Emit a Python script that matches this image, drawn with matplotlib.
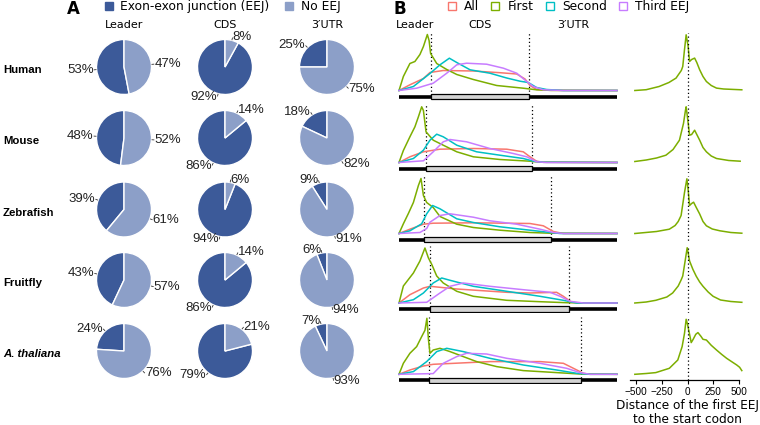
import matplotlib.pyplot as plt
from matplotlib.lines import Line2D
from matplotlib.patches import Rectangle
import numpy as np

W, H = 760, 425

# ---- panel A data: share of genes with an exon-exon junction (%)
species = ["Human", "Mouse", "Zebrafish", "Fruitfly", "A. thaliana"]
regions = ["Leader", "CDS", "3\u2032UTR"]
eej_pct = [[53, 92, 25],
           [48, 86, 18],
           [39, 94, 9],
           [43, 86, 6],
           [24, 79, 7]]

# ---- panel B data: metagene position (0..1) of CDS start / stop
cds_start = [0.147, 0.124, 0.116, 0.142, 0.139]
cds_stop = [0.598, 0.612, 0.696, 0.780, 0.835]

# density of EEJ along the metagene: (x, y) per species
all_x = [[0, .05, .112, .142, .203, .341, .463, .540, .578, .601, .631, .69, 1],
         [0, .05, .112, .188, .341, .494, .570, .601, .631, .662, 1],
         [0, .05, .112, .157, .341, .601, .662, .708, .754, 1],
         [0, .05, .112, .142, .265, .494, .601, .723, .754, .792, .830, 1],
         [0, .05, .112, .157, .417, .647, .754, .800, .846, .876, 1]]
all_y = [[0, 5.7, 12, 18, 20, 19.5, 17.8, 16.5, 11.5, 5, 1, 0.2, 0],
         [0, 5.7, 10.7, 13.3, 14, 13.3, 10.7, 5.7, 1.3, 0.2, 0],
         [0, 4.3, 9.3, 10.3, 10.7, 10, 7.7, 2, 0, 0],
         [0, 8.3, 15, 16.7, 14, 10.7, 10, 10.7, 6.7, 0.7, 0, 0],
         [0, 4.3, 8.3, 10, 12.7, 12.7, 11, 6, 1, 0, 0]]

first_x = [[0, .02, .05, .073, .096, .112, .130, .138, .145, .173, .219, .265, .341, .448, .570, .631, .70, 1],
           [0, .02, .05, .073, .089, .104, .112, .124, .157, .203, .265, .341, .463, .601, .647, 1],
           [0, .02, .043, .066, .089, .101, .112, .127, .157, .188, .265, .341, .463, .601, .693, 1],
           [0, .02, .066, .096, .119, .135, .150, .173, .203, .265, .341, .494, .647, .769, 1],
           [0, .02, .05, .081, .104, .119, .128, .135, .142, .157, .188, .234, .295, .356, .448, .570, .723, .830, 1]]
first_y = [[0, 14, 27, 29, 36, 44, 56, 50, 37, 27, 21, 16, 11, 5, 2.3, 0.7, 0.1, 0],
           [0, 12, 25.7, 35.7, 45.7, 55.7, 52, 30.7, 22.3, 17.3, 10.7, 5.7, 3, 1.3, 0.3, 0],
           [0, 9.7, 20, 31, 48, 55, 38, 31, 26, 17, 9.3, 6, 3.3, 1, 0.3, 0],
           [0, 17, 30, 42, 55, 45, 38.7, 27, 20, 11.7, 6.7, 2.7, 1.3, 0.3, 0],
           [0, 11, 21, 27.7, 37.7, 44, 56, 35, 21, 24.3, 26, 22.7, 17.7, 12.7, 7.7, 3.7, 1.7, 0.3, 0]]

second_x = [[0, .066, .142, .188, .231, .265, .326, .417, .494, .555, .593, .631, .677, .754, 1],
            [0, .066, .112, .142, .173, .203, .265, .356, .463, .570, .616, .662, 1],
            [0, .05, .104, .127, .154, .188, .265, .341, .463, .601, .693, .739, 1],
            [0, .066, .112, .157, .196, .234, .341, .494, .647, .754, .815, 1],
            [0, .066, .127, .173, .219, .295, .417, .570, .723, .815, .876, 1]]
second_y = [[0, 4, 17, 25.7, 32.3, 28, 20.7, 17.3, 12.5, 9.3, 8, 3, 1, 0, 0],
            [0, 4, 12.3, 22.3, 28.3, 25.7, 17.3, 10.7, 7.3, 4, 1.3, 0.2, 0],
            [0, 2.7, 9.7, 19.7, 28, 24.7, 14.7, 11, 6.7, 3.3, 1, 0, 0],
            [0, 3.3, 10, 20, 25, 22.7, 16.7, 11.7, 6.7, 2.7, 0, 0],
            [0, 2.7, 12.7, 22.7, 26, 22.7, 16, 9.3, 4.3, 1, 0, 0]]

third_x = [[0, .081, .157, .219, .265, .310, .402, .479, .540, .586, .616, .662, .754, 1],
           [0, .112, .157, .203, .234, .310, .417, .524, .586, .631, .677, 1],
           [0, .096, .127, .142, .188, .234, .341, .417, .540, .647, .708, .754, 1],
           [0, .127, .188, .234, .295, .417, .570, .693, .739, .784, .846, 1],
           [0, .157, .203, .265, .310, .402, .494, .647, .769, .830, .876, 1]]
third_y = [[0, 2.3, 7.3, 17.3, 25.7, 27.3, 26.3, 22.3, 17.3, 9, 4, 0.7, 0, 0],
           [0, 1.7, 10.7, 20.7, 23, 20.7, 14, 9, 5.7, 0.7, 0, 0],
           [0, 1, 5, 11.3, 18, 19.7, 16.3, 12.7, 9.3, 4.3, 1, 0, 0],
           [0, 0.7, 10, 16.7, 20, 16.7, 13.3, 10.7, 6.7, 1.7, 0, 0],
           [0, 0.7, 11, 17.7, 21, 20.3, 16, 11, 6, 1.7, 0, 0]]

# first EEJ distance to the start codon (nt) and its density
dist_x = [[-510, -400, -275, -180, -111, -60, -46, -30, -13, 5, 20, 40, 69, 90, 118, 150, 183, 230, 281, 350, 526],
          [-510, -400, -300, -209, -140, -78, -39, -20, -13, 0, 20, 40, 69, 90, 118, 150, 183, 230, 281, 400, 510],
          [-510, -300, -176, -120, -90, -62, -29, -6, 5, 20, 40, 59, 85, 118, 150, 183, 240, 314, 420, 526],
          [-510, -400, -307, -200, -144, -90, -62, -46, -23, -3, 20, 52, 85, 118, 150, 200, 248, 320, 420, 526],
          [-510, -400, -307, -176, -94, -52, -29, -13, 0, 20, 36, 55, 80, 101, 130, 150, 183, 230, 281, 330, 379, 430, 477, 505, 526]]
dist_y = [[0, 0.8, 4, 8, 12.4, 20, 24, 40, 55.7, 45, 29, 31, 32.4, 28, 20.7, 14, 9, 5, 2.4, 1.5, 0.7],
          [1, 2.5, 4.5, 7.3, 13, 22.3, 39, 52, 55.7, 45, 27.3, 28, 32.3, 28, 22.3, 15, 10.7, 6.5, 4, 2, 1.3],
          [0, 2, 4.3, 8, 12, 18, 41, 54.7, 45, 28, 30, 31.3, 26, 19.5, 12, 7.7, 4.5, 2.7, 1, 0.3],
          [0, 1, 2.7, 6, 10, 17, 23, 27, 42, 55.3, 42, 33.7, 26.7, 21, 16.7, 11, 6.7, 3, 1.5, 0.7],
          [0, 0.8, 1.7, 6, 14.3, 27.7, 41, 55, 50, 40, 31.7, 35, 40, 41.7, 38, 35, 34.3, 29, 24.3, 20, 16, 12.5, 9.3, 7, 3.7]]
dist_ticks = [-500, -250, 0, 250, 500]

dark = "#3C5A99"
light = "#8C9FC8"
line_colors = ["#F8766D", "#7CAE00", "#00BFC4", "#C77CFF"]
line_names = ["All", "First", "Second", "Third EEJ"]

fig = plt.figure(figsize=(7.6, 4.25), dpi=100)


def px_axes(x, y, w, h):
    ax = fig.add_axes([x / W, 1 - (y + h) / H, w / W, h / H])
    return ax


def fig_text(x, y, s, **kw):
    fig.text(x / W, 1 - y / H, s, **kw)


# ---------------- panel A: pies
pie_cx = [124, 225, 327]
pie_cy = [67, 138, 209.5, 280, 351]
R = 27.5
for i, sp in enumerate(species):
    style = "italic" if sp.startswith("A.") else "normal"
    fig_text(3, pie_cy[i] + 3, sp, ha="left", va="center", fontsize=8.2,
             fontweight="bold", style=style, family="Liberation Sans")
    for j in range(3):
        v = eej_pct[i][j]
        ax = px_axes(pie_cx[j] - R, pie_cy[i] - R, 2 * R, 2 * R)
        wedges, _ = ax.pie([v, 100 - v], colors=[dark, light], startangle=90,
                           counterclock=True, frame=True,
                           wedgeprops=dict(edgecolor="white", linewidth=1))
        ax.set_xlim(-1, 1)
        ax.set_ylim(-1, 1)
        ax.axis("off")
        for w, val in zip(wedges, [v, 100 - v]):
            th = np.deg2rad((w.theta1 + w.theta2) / 2)
            c, s = np.cos(th), np.sin(th)
            ax.plot([1.02 * c, 1.09 * c], [1.02 * s, 1.09 * s], color="#333333",
                    lw=0.6, clip_on=False)
            ax.text(1.11 * c, 1.11 * s, f"{val}%", ha="left" if c > 0 else "right",
                    va="center", fontsize=9.5, family="Liberation Sans",
                    color="#222222", clip_on=False)

for j, reg in enumerate(regions):
    fig_text(pie_cx[j], 25, reg, ha="center", va="center", fontsize=8)

fig_text(67, 9, "A", fontsize=12, fontweight="bold", ha="left", va="center")
fig_text(394, 9, "B", fontsize=12, fontweight="bold", ha="left", va="center")

leg_a = [Line2D([], [], ls="none", marker="s", ms=6, mfc=c, mec=c) for c in [dark, light]]
fig.legend(leg_a, ["Exon-exon junction (EEJ)", "No EEJ"], loc="upper left",
           bbox_to_anchor=(104 / W, 1.0), ncol=2, frameon=False, fontsize=8.8,
           handlelength=0.8, handletextpad=0.55, columnspacing=1.2,
           borderpad=0, borderaxespad=0)

leg_b = [Line2D([], [], ls="none", marker="s", ms=6, mfc="none", mec=c, mew=1)
         for c in line_colors]
fig.legend(leg_b, line_names, loc="upper left", bbox_to_anchor=(447 / W, 1.0),
           ncol=4, frameon=False, fontsize=8.8, handlelength=0.8,
           handletextpad=0.6, columnspacing=0.92, borderpad=0, borderaxespad=0)

# ---------------- panel B: metagene densities
baseline = [90.5, 162.5, 233.5, 303, 374.3]
dots = (0, (1, 2))
for i in range(5):
    b = baseline[i]
    ax = px_axes(399, b - 60, 218, 70)
    ax.set_xlim(0, 1)
    ax.set_ylim(-10, 60)
    ax.axis("off")
    ax.plot([0, 1], [-6, -6], color="black", lw=2.6, solid_capstyle="butt")
    ax.add_patch(Rectangle((cds_start[i], -8.7), cds_stop[i] - cds_start[i], 5.4,
                           facecolor="#D3D3D3", edgecolor="black", lw=0.9, zorder=3))
    for xv in (cds_start[i], cds_stop[i]):
        ax.plot([xv, xv], [-4, 57.5], color="black", ls=dots, lw=0.9)
    for xs, ys, col in zip([all_x, first_x, second_x, third_x],
                           [all_y, first_y, second_y, third_y], line_colors):
        ax.plot(xs[i], ys[i], color=col, lw=1.1, clip_on=False)
    if i == 0:
        ax.text(cds_start[i] / 2, 65.5, "Leader", ha="center", va="center", fontsize=8)
        ax.text((cds_start[i] + cds_stop[i]) / 2, 65.5, "CDS", ha="center",
                va="center", fontsize=8)
        ax.text((cds_stop[i] + 1) / 2, 65.5, "3\u2032UTR", ha="center",
                va="center", fontsize=8)

    axr = px_axes(630.2, b - 60, 114.6, 70)
    axr.set_xlim(-555, 555)
    axr.set_ylim(-10, 60)
    axr.plot(dist_x[i], dist_y[i], color=line_colors[1], lw=1.1, clip_on=False)
    for s in ["top", "left", "right", "bottom"]:
        axr.spines[s].set_visible(False)
    axr.set_yticks([])
    low = -6 if i == 4 else -10
    axr.plot([0, 0], [low, 57.5], color="black", ls=dots, lw=0.9, zorder=4)
    if i == 4:
        axr.spines["bottom"].set_visible(True)
        axr.spines["bottom"].set_position(("data", -6))
        axr.spines["bottom"].set_bounds(-560, 500)
        axr.spines["bottom"].set_linewidth(0.9)
        axr.set_xticks(dist_ticks)
        axr.tick_params(axis="x", length=3, width=0.8, pad=1.5, labelsize=7.2)
        for lab in axr.get_xticklabels():
            lab.set_family("Liberation Sans")
        axr.set_xlabel("Distance of the first EEJ\nto the start codon",
                       fontsize=8.7, labelpad=2, linespacing=1.05)
    else:
        axr.set_xticks([])

fig.savefig("out.png", dpi=100)
